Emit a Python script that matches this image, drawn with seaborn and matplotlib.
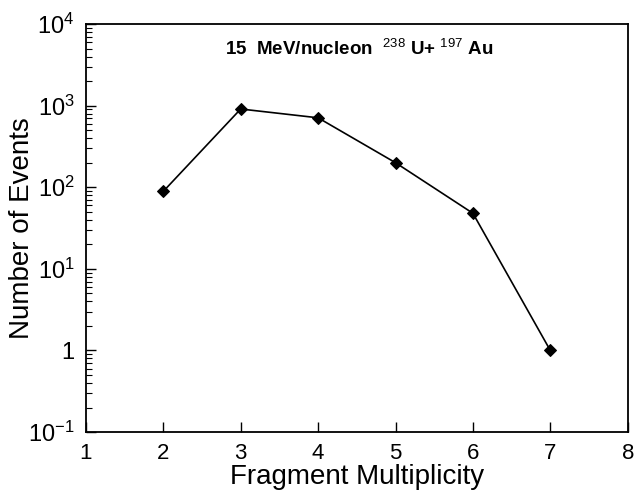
import matplotlib
matplotlib.use("Agg")
import matplotlib.pyplot as plt
import seaborn as sns
import pandas as pd
from matplotlib.ticker import FixedLocator, LogLocator, NullFormatter

multiplicity = [2, 3, 4, 5, 6, 7]
events = [89, 910, 710, 200, 48, 1]
ytick_vals = [0.1, 1, 10, 100, 1000, 10000]
ytick_labels = ["10$^{-1}$", "1", "10$^{1}$", "10$^{2}$", "10$^{3}$", "10$^{4}$"]
xtick_vals = [1, 2, 3, 4, 5, 6, 7, 8]

sns.set_theme(style="ticks")
plt.rcParams['font.family'] = ['Liberation Sans', 'DejaVu Sans']
plt.rcParams['mathtext.fontset'] = 'custom'
plt.rcParams['mathtext.rm'] = 'Liberation Sans'
plt.rcParams['mathtext.it'] = 'Liberation Sans:italic'
plt.rcParams['mathtext.bf'] = 'Liberation Sans:bold'
plt.rcParams['text.color'] = 'black'
plt.rcParams['axes.labelcolor'] = 'black'

df = pd.DataFrame({"Fragment Multiplicity": multiplicity, "Number of Events": events})

fig = plt.figure(figsize=(6.36, 4.91), dpi=100)
ax = fig.add_axes([0.135, 0.12, 0.852, 0.831])
sns.lineplot(data=df, x="Fragment Multiplicity", y="Number of Events", ax=ax,
             color="black", linewidth=1.2, marker="D", markersize=6,
             markeredgecolor="black", markerfacecolor="black")
ax.set_yscale("log")
ax.set_ylim(0.1, 10000)
ax.set_xlim(1, 8)
ax.yaxis.set_major_locator(FixedLocator(ytick_vals))
ax.set_yticklabels(ytick_labels)
ax.yaxis.set_minor_locator(LogLocator(base=10, subs=range(2, 10)))
ax.yaxis.set_minor_formatter(NullFormatter())
ax.set_xticks(xtick_vals)
ax.set_xticklabels([str(v) for v in xtick_vals])
ax.tick_params(axis="both", which="major", direction="in", length=7, width=1,
               labelsize=17, colors="black", pad=8)
ax.tick_params(axis="y", which="minor", direction="in", length=4, width=0.8, colors="black")
ax.tick_params(axis="x", which="major", labelsize=16)
for s in ax.spines.values():
    s.set_linewidth(1.3)
    s.set_color("black")
ax.set_xlabel("Fragment Multiplicity", fontsize=20, color="black")
ax.set_ylabel("Number of Events", fontsize=20, color="black")
ax.xaxis.set_label_coords(0.5, -0.11)
ax.yaxis.set_label_coords(-0.118, 0.5)
ax.xaxis.label.set_va("center")
ax.yaxis.label.set_va("center")
ax.text(0.505, 0.94, "15  MeV/nucleon  $^{238}$ U+ $^{197}$ Au", transform=ax.transAxes,
        ha="center", va="center", fontsize=13.5, fontweight="bold", color="black")
fig.savefig("out.png", dpi=100)
